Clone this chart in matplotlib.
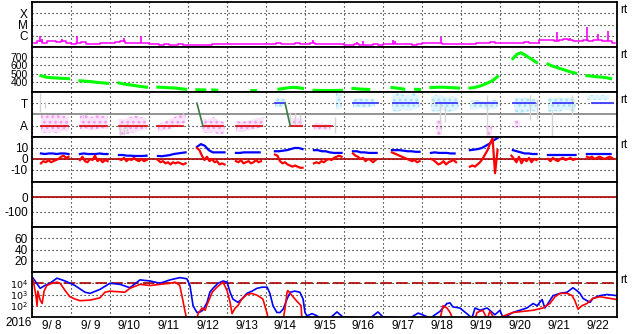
import numpy as np
import matplotlib
matplotlib.use('Agg')
import matplotlib.pyplot as plt

nan = np.nan
plt.rcParams['font.family'] = ['Liberation Sans', 'DejaVu Sans']
plt.rcParams['font.size'] = 8
plt.rcParams['hatch.linewidth'] = 1.2

days = ['9/ 8', '9/ 9', '9/10', '9/11', '9/12', '9/13', '9/14', '9/15',
        '9/16', '9/17', '9/18', '9/19', '9/20', '9/21', '9/22']

# x-ray flux, log10 W/m2, 8 values per day (3 h steps)
xray_base = [
    [-6.6, -6.5, -6.6, -6.5, -6.45, -6.55, -6.5, -6.6],
    [-6.75, -6.6, -6.55, -6.7, -6.75, -6.7, -6.65, -6.6],
    [-6.6, -6.55, -6.5, -6.6, -6.6, -6.65, -6.6, -6.65],
    [-6.7, -6.75, -6.8, -6.75, -6.8, -6.8, -6.75, -6.8],
    [-6.85, -6.85, -6.8, -6.85, -6.8, -6.75, -6.75, -6.7],
    [-6.7, -6.7, -6.75, -6.7, -6.7, -6.75, -6.7, -6.7],
    [-6.7, -6.7, -6.65, -6.7, -6.75, -6.7, -6.65, -6.7],
    [-6.7, -6.65, -6.7, -6.7, -6.75, -6.7, -6.7, -6.75],
    [-6.8, -6.8, -6.75, -6.8, -6.8, -6.8, -6.75, -6.8],
    [-6.75, -6.75, -6.7, -6.75, -6.7, -6.75, -6.8, -6.75],
    [-6.65, -6.65, -6.6, -6.65, -6.7, -6.7, -6.7, -6.72],
    [-6.75, -6.72, -6.7, -6.6, -6.65, -6.6, -6.55, -6.6],
    [-6.65, -6.6, -6.65, -6.6, -6.6, -6.55, -6.6, -6.6],
    [-6.4, -6.4, -6.35, -6.45, -6.4, -6.3, -6.35, -6.45],
    [-6.45, -6.4, -6.5, -6.4, -6.35, -6.45, -6.5, -6.65],
]
spike_t = [0.21, 0.26, 0.77, 1.15, 2.36, 2.79, 7.21, 8.33, 8.49, 9.26, 9.31,
           10.49, 13.46, 13.79, 14.23, 14.51, 14.77]
spike_v = [-6.0, -6.3, -6.3, -6.0, -6.2, -6.0, -6.38, -6.56, -6.45, -6.38, -6.45,
           -6.1, -5.7, -6.2, -5.22, -5.8, -5.6]

# solar wind speed km/s, per day over 05:30-22:30
speed = [
    [480, 462, 455, 452, 448, 445],
    [420, 415, 410, 402, 396, 390],
    [395, 380, 372, 362, 352, 345],
    [345, 342, 338, 335, 328, 320],
    [315, 313, 312, nan, 312, 310, nan, nan],
    [nan, nan, nan, nan, 305, 304, nan, nan],
    [nan, 322, 328, 335, 340, 342, 338, 330],
    [308, 307, 306, 306, 305, 306, 307, 308],
    [330, 326, 322, 320, 318, nan, nan, nan],
    [340, 335, 330, 322, nan, nan, 320, 318],
    [340, 342, 345, 344, 342, 340, 337, 335],
    [335, 340, 350, 365, 385, 405, 430, 470],
    [nan, 680, 730, 750, 725, 695, 665, 635],
    [615, 595, 580, 565, 550, 535, 520, 510],
    [480, 475, 470, 465, 462, 455, 445, nan],
]

# IMF sector: phi spread (deg), 6 samples per day
pink = [
    [(40, 180), (30, 170), (40, 190), (30, 180), (50, 170), (40, 160)],
    [(60, 170), (70, 176), (50, 160), (60, 175), (70, 170), (60, 165)],
    [(20, 150), (16, 140), (30, 160), (40, 170), (50, 160), (60, 150)],
    [(40, 100), (50, 120), (60, 140), (80, 160), (100, 180), (110, 190)],
    [(nan, nan), (40, 150), (30, 140), (40, 160), (20, 130), (30, 120)],
    [(40, 130), (40, 120), (50, 130), (60, 140), (70, 150), (80, 160)],
    [(nan, nan), (nan, nan), (nan, nan), (90, 150), (90, 150), (96, 152)],
    [(56, 110), (60, 110), (60, 105), (56, 100), (nan, nan), (nan, nan)],
    [(nan, nan)] * 6,
    [(nan, nan)] * 6,
    [(nan, nan), (20, 136), (16, 136), (nan, nan), (nan, nan), (nan, nan)],
    [(nan, nan), (nan, nan), (nan, nan), (0, 96), (10, 90), (nan, nan)],
    [(nan, nan), (72, 136), (80, 130), (nan, nan), (nan, nan), (nan, nan)],
    [(nan, nan)] * 6,
    [(nan, nan)] * 6,
]
lblue = [
    [(nan, nan)] * 6,
    [(nan, nan)] * 6,
    [(nan, nan)] * 6,
    [(nan, nan)] * 6,
    [(nan, nan)] * 6,
    [(nan, nan)] * 6,
    [(240, 310), (240, 312), (250, 300), (nan, nan), (nan, nan), (nan, nan)],
    [(nan, nan), (nan, nan), (nan, nan), (nan, nan), (216, 352), (230, 340)],
    [(232, 300), (240, 312), (232, 305), (240, 300), (250, 310), (nan, nan)],
    [(210, 330), (200, 350), (220, 340), (210, 330), (220, 352), (230, 320)],
    [(210, 320), (200, 336), (220, 330), (200, 320), (210, 330), (220, 310)],
    [(216, 290), (220, 296), (230, 290), (216, 280), (220, 296), (230, 296)],
    [(nan, nan), (200, 320), (192, 310), (200, 320), (210, 300), (200, 310)],
    [(200, 320), (210, 310), (200, 320), (220, 310), (210, 320), (200, 300)],
    [(296, 330), (300, 336), (296, 330), (300, 336), (296, 330), (nan, nan)],
]
gray_t = [0.21, 0.33, 1.31, 2.26, 2.35, 2.44, 3.87, 6.62, 6.75, 6.87, 7.77,
          8.36, 10.46, 10.6, 11.67, 12.77, 12.95, 13.33, 13.85]
gray_lo = [200, 230, 150, 10, 20, 30, 180, 96, 100, 110, 32,
           40, 100, 120, 16, 136, 140, 0, 176]
gray_hi = [350, 280, 180, 100, 90, 110, 200, 200, 190, 180, 160,
           48, 290, 250, 336, 336, 300, 216, 336]
sector_start = [0.23, 1.23, 2.23, 3.20, 4.38, 5.23, 6.23, 6.62, 7.20, 8.23,
                9.26, 10.36, 11.36, 12.33, 13.36, 14.36]
sector_end = [0.93, 1.92, 2.95, 3.87, 4.90, 5.90, 6.49, 6.92, 7.69, 8.87,
              9.90, 10.90, 11.92, 12.90, 13.87, 14.90]
sector_pol = ['A', 'A', 'A', 'A', 'A', 'A', 'T', 'A', 'A', 'T',
              'T', 'T', 'T', 'T', 'T', 'T']
cross_t0 = [4.23, 6.49]
cross_t1 = [4.38, 6.62]

# IMF Bt / Bz nT, per day over 05:30-22:30
bt = [
    [5, 4.5, 5, 5, 4.5, 5, 5, 4.5],
    [4.5, 5, 4.5, 4.5, 4.5, 5, 4.5, 4.5],
    [3.6, 3.6, 3, 3, 2.7, 2.7, 2.7, 3],
    [2.7, 2.5, 3, 3.5, 4.5, 5, 5.5, 6],
    [11, 13.5, 12, 8, 6, 6, 6, 6],
    [5.5, 5.5, 6, 6, 6, 6, 6, nan],
    [7, 7, 7.5, 8, 9, 10, 10, 9],
    [8, 8, 7, 7, 6, 5.5, 5.5, 5.5],
    [7, 7, 6, 6, 5.5, 5.5, 5.5, nan],
    [8, 8, 8, 7.5, 7, 7, 6.5, 6.5],
    [5.5, 6, 5.5, 5.5, 5.5, 5, 5, nan],
    [8, 8.5, 9, 10, 12, 14, 17, 19],
    [nan, 8, 7, 6, 5, 5, 4.5, 4.5],
    [3.6, 3.6, 3.6, 3.5, 3.6, 3.6, 3.6, 3.6],
    [4.5, 4.5, 4.5, 4.5, 4.5, 4.5, 4.5, nan],
]
bz = [
    [-4, -2, -3, -1, -3, -2, -1, 0, 2, 3, 1, 2],
    [-1, 2, -2, -3, 0, -1, 3, -2, 0, -3, -1, -2],
    [0, -1, 1, -2, 0, -1, 1, -1, -2, 0, -2, -1],
    [-1, -3, -2, -4, -3, -5, -3, -4, -3, -4, -5, -4],
    [10, 8, 3, -1, 2, -2, 0, -3, -2, -5, -4, -5],
    [-2, -3, -1, -4, -3, -2, -4, -3, -1, -3, -2, nan],
    [4, 3, -2, -4, -3, -5, -6, -7, -6, -7, -8, -8],
    [-4, -3, -4, -2, -3, -1, 0, -1, 1, 2, 3, 2],
    [5, 3, 2, 0, 1, -2, 0, -1, -3, -1, nan, nan],
    [6, 5, 4, 3, 2, 1, 0, -1, -2, -1, -3, -2],
    [0, -1, -3, -5, -4, -2, -5, -3, -2, -1, -3, nan],
    [-7, -6, -7, -5, -3, 0, 4, 8, 14, 19, -13, 8],
    [nan, 3, 0, -3, 2, -4, 0, -2, 1, -3, 0, -1],
    [0, -2, 1, -1, -2, 0, 1, -1, 0, 1, -1, 0],
    [2, 1, 2, 0, 1, 2, 1, 0, 1, 2, 1, nan],
]

# electron flux, log10
eb_t = [0.03, 0.10, 0.21, 0.33, 0.46, 0.64, 0.85, 1.10, 1.36, 1.49, 1.74, 2.00, 2.26, 2.51,
        2.77, 3.03, 3.28, 3.54, 3.79, 3.97, 4.05, 4.13, 4.23, 4.31, 4.38, 4.49, 4.56, 4.64,
        4.77, 4.90, 5.00, 5.08, 5.15, 5.28, 5.38, 5.51, 5.64, 5.77, 5.90, 6.03, 6.10, 6.18,
        6.28, 6.36, 6.44, 6.54, 6.62, 6.74, 6.87, 6.95, 7.00, 7.05, 7.18, 7.31, 7.38, 7.64,
        7.82, 7.97, 8.67, 8.87, 9.00, 9.69, 9.90, 10.08, 10.21, 10.46, 10.64, 10.72, 10.79,
        10.97, 11.15, 11.28, 11.36, 11.49, 11.67, 11.87, 12.00, 12.08, 12.33, 12.51, 12.69,
        12.85, 12.95, 13.08, 13.15, 13.23, 13.36, 13.54, 13.72, 13.87, 13.97, 14.05, 14.13,
        14.31, 14.38, 14.56, 14.74, 15.00]
eb_v = [4.45, 4.1, 3.55, 3.8, 4.0, 4.45, 4.2, 3.8, 3.2, 3.1, 3.45, 4.0, 3.9, 3.6,
        4.3, 4.2, 4.0, 4.3, 4.5, 4.4, 3.8, 2.0, 1.4, 1.45, 1.6, 2.3, 3.2, 3.55,
        4.0, 4.2, 4.1, 3.2, 2.6, 2.3, 2.6, 3.1, 3.3, 3.55, 3.65, 3.65, 3.1, 2.0,
        1.4, 1.4, 1.7, 2.6, 3.2, 3.3, 3.2, 2.6, 1.4, 1.1, 1.3, 1.1, 0.9, 0.9,
        1.45, 1.0, 0.9, 1.45, 1.0, 0.9, 1.35, 1.1, 0.9, 1.5, 2.2, 2.25, 1.9,
        1.8, 1.3, 0.9, 1.8, 1.6, 1.8, 1.2, 1.6, 0.9, 1.4, 1.6, 1.8,
        2.2, 2.0, 2.55, 1.8, 2.2, 2.9, 3.1, 3.2, 3.6, 3.35, 3.1, 2.65,
        2.3, 2.65, 2.9, 3.0, 2.9]
er_t = [0.03, 0.10, 0.13, 0.15, 0.21, 0.26, 0.31, 0.38, 0.51, 0.64, 0.72, 0.85, 0.97, 1.10,
        1.23, 1.49, 1.74, 1.87, 2.00, 2.38, 2.51, 2.77, 3.03, 3.28, 3.54, 3.67, 3.79, 3.87,
        3.92, 3.97, 4.23, 4.26, 4.36, 4.44, 4.49, 4.62, 4.74, 4.90, 5.00, 5.08, 5.13, 5.21,
        5.28, 5.38, 5.51, 5.64, 5.79, 5.92, 6.03, 6.05, 6.44, 6.49, 6.54, 6.56, 6.67, 6.74,
        6.82, 6.90, 6.92, 10.46, 10.54, 10.64, 10.72, 10.79, 11.36, 11.41, 11.56, 11.67,
        11.74, 11.87, 12.33, 12.85, 13.10, 13.28, 13.41, 13.54, 13.72, 13.85, 13.92, 14.00,
        14.10, 14.23, 14.38, 14.56, 14.74, 15.00]
er_v = [4.3, 2.9, 2.0, 3.3, 2.5, 2.2, 3.3, 3.8, 4.0, 4.1, 4.0, 3.35, 2.8, 2.6,
        2.45, 2.5, 2.7, 3.2, 3.3, 3.2, 3.55, 3.9, 3.8, 3.9, 4.0, 4.1, 3.8, 2.45,
        1.55, 0.8, 0.8, 1.3, 1.8, 1.6, 2.1, 3.2, 3.65, 4.1, 3.35, 2.3, 1.3, 1.8,
        2.0, 2.6, 3.0, 3.1, 2.9, 2.6, 1.3, 0.8, 0.8, 1.8, 3.2, 3.35, 2.9, 2.6,
        2.3, 2.0, 0.8, 0.8, 2.0, 1.8, 1.4, 0.8, 0.8, 1.4, 1.6, 0.8,
        1.5, 0.8, 1.4, 1.6, 1.8, 2.2, 2.8, 3.1, 3.1, 2.9, 2.45, 1.7,
        2.0, 2.2, 2.65, 2.8, 2.7, 2.55]


def day_series(per_day, h0=5.5, h1=22.5):
    t, v = [], []
    for d, vals in enumerate(per_day):
        hrs = np.linspace(h0, h1, len(vals))
        t += list(d + hrs / 24.0)
        v += list(vals)
        t.append(d + 0.97)
        v.append(nan)
    return np.array(t), np.array(v, dtype=float)


def day_band(per_day):
    t, lo, hi = [], [], []
    for d, vals in enumerate(per_day):
        hrs = np.linspace(5.5, 22.5, len(vals))
        t += list(d + hrs / 24.0)
        lo += [a for a, b in vals]
        hi += [b for a, b in vals]
        t.append(d + 0.97)
        lo.append(nan)
        hi.append(nan)
    return np.array(t), np.array(lo, dtype=float), np.array(hi, dtype=float)


dotted = (0, (1, 2.6))
dkred = '#aa0000'

fig, axes = plt.subplots(7, 1, figsize=(6.33, 3.34), dpi=100, sharex=True)
fig.subplots_adjust(left=32/633, right=617/633, top=1-2/334, bottom=1-317/334, hspace=0)

ylims = [(-7, -3), (288, 817), (0, 360), (-21, 20), (-200, 100), (0, 80), (1, 5)]
yticks = [[-4, -5, -6], [700, 600, 500, 400], [270, 90], [10, 0, -10], [0, -100],
          [60, 40, 20], [4, 3, 2]]
ylabels = [['X', 'M', 'C'], ['700', '600', '500', '400'], ['T', 'A'], ['10', '0', '-10'],
           ['0', '-100'], ['60', '40', '20'], ['$10^4$', '$10^3$', '$10^2$']]

for i, ax in enumerate(axes):
    ax.set_xlim(0, 15)
    ax.set_ylim(*ylims[i])
    ax.set_yticks(yticks[i])
    ax.set_yticklabels(ylabels[i])
    ax.set_xticks(np.arange(16))
    ax.tick_params(length=0, pad=3, labelsize=8.5)
    ax.grid(True, which='major', color='k', lw=0.8, linestyle=dotted)
    for s in ax.spines.values():
        s.set_linewidth(1.3)
    if i in (0, 1, 2, 3, 6):
        ax.text(1.006, 0.82, 'rt', transform=ax.transAxes, fontsize=8.5,
                va='center', ha='left')
axes[1].tick_params(axis='y', labelsize=7.5)
axes[6].tick_params(axis='y', labelsize=6.8)

# panel 1 x-ray
ax = axes[0]
xt = np.arange(120) * 0.125 + 0.0625
xv = np.array(xray_base).ravel()
ax.plot(xt, xv, color='#ff00ff', lw=1.1, drawstyle='steps-mid')
ax.vlines(spike_t, np.interp(spike_t, xt, xv), spike_v, color='#ff00ff', lw=1.2)

# panel 2 speed
ax = axes[1]
st, sv = day_series(speed)
ax.plot(st, sv, color='#00ff00', lw=2.2)

# panel 3 sector
ax = axes[2]
ax.axhline(180, color='#808080', lw=1.2)
bt_, lo, hi = day_band(pink)
ax.fill_between(bt_, lo, hi, facecolor='#fbe3fb', edgecolor='#f29af2', hatch='...', lw=0)
bt_, lo, hi = day_band(lblue)
ax.fill_between(bt_, lo, hi, facecolor='#e0f5fd', edgecolor='#a6e2f8', hatch='...', lw=0)
ax.vlines(gray_t, gray_lo, gray_hi, color='#d4d4d4', lw=1.0)
for s, e, p in zip(sector_start, sector_end, sector_pol):
    if p == 'T':
        ax.plot([s, e], [270, 270], color='#3c3cff', lw=1.3)
    else:
        ax.plot([s, e], [90, 90], color='#dd1111', lw=1.3)
for a, b in zip(cross_t0, cross_t1):
    ax.plot([a, b], [270, 90], color='#3a7d44', lw=1.2)

# panel 4 IMF
ax = axes[3]
ax.axhline(0, color=dkred, lw=1.2)
tt, vv = day_series(bt)
ax.plot(tt, vv, color='#0000ff', lw=1.6)
tt, vv = day_series(bz)
ax.plot(tt, vv, color='#ff0000', lw=1.6)

# panel 5
axes[4].axhline(0, color=dkred, lw=1.2)

# panel 7 electrons
ax = axes[6]
ax.axhline(4, color=dkred, lw=1.2, dashes=(7, 2.5))
ax.plot(eb_t, eb_v, color='#0000ff', lw=1.2)
ax.plot(er_t, er_v, color='#ff0000', lw=1.2)

ax.set_xticks(np.arange(15) + 0.5, minor=True)
ax.set_xticklabels(days, minor=True)
ax.set_xticklabels([''] * 16)
ax.tick_params(axis='x', which='both', length=0, pad=2, labelsize=8.5)

fig.text(5/633, 1-323/334, '2016', va='center', ha='left', fontsize=8.5)

fig.savefig('out.png', dpi=100)
